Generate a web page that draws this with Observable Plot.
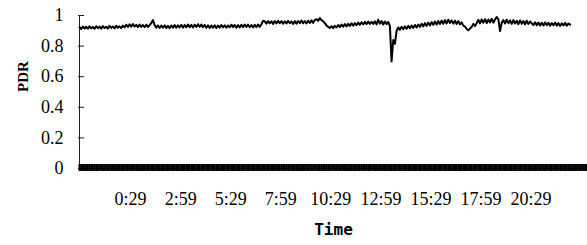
<!DOCTYPE html>
<html>
<head>
<meta charset="utf-8">
<script src="https://cdn.jsdelivr.net/npm/d3@7"></script>
<script src="https://cdn.jsdelivr.net/npm/@observablehq/plot@0.6"></script>
<style>
  html, body { margin: 0; padding: 0; background: #fff; }
</style>
</head>
<body>
<div id="chart"></div>
<script>
// Series: PDR sampled every 5 minutes, first sample at 21:56 of the previous day
const startHour = -2.0667;   // hours relative to 0:00
const stepHour = 1 / 12;     // 5 minutes
const pdrValues = [
  0.924, 0.912, 0.928, 0.915, 0.926, 0.914, 0.929, 0.916, 0.925, 0.913, 0.930, 0.917, 0.927, 0.914, 0.931,
  0.918, 0.926, 0.915, 0.932, 0.919, 0.928, 0.916, 0.933, 0.920, 0.929, 0.917, 0.934, 0.922,
  0.940, 0.925, 0.942, 0.927, 0.944, 0.928, 0.939, 0.924, 0.941, 0.926, 0.938, 0.923, 0.940, 0.925, 0.937,
  0.950, 0.970,
  0.938, 0.921, 0.935, 0.919, 0.934, 0.920, 0.936, 0.918, 0.933, 0.917, 0.935, 0.921, 0.937, 0.920, 0.936,
  0.922, 0.939, 0.921, 0.937, 0.923, 0.941, 0.924, 0.939, 0.922, 0.940, 0.925, 0.943, 0.926, 0.941, 0.924,
  0.938, 0.920, 0.936, 0.919, 0.935, 0.920, 0.936, 0.918, 0.934, 0.921, 0.938, 0.922, 0.936, 0.920, 0.935,
  0.923, 0.940, 0.924, 0.938, 0.921, 0.937, 0.922, 0.939, 0.924, 0.941, 0.925, 0.940, 0.923, 0.938, 0.922,
  0.939, 0.924, 0.941, 0.926, 0.943,
  0.965,
  0.962, 0.947, 0.964, 0.949, 0.962, 0.945, 0.964, 0.948, 0.966, 0.950, 0.963, 0.946, 0.962, 0.948, 0.965,
  0.949, 0.961, 0.945, 0.963, 0.947, 0.964, 0.950, 0.967, 0.949, 0.963, 0.948, 0.966, 0.951, 0.968, 0.952, 0.970,
  0.976, 0.965, 0.983, 0.970, 0.962,
  0.950, 0.935, 0.926, 0.918, 0.930, 0.917, 0.932,
  0.922, 0.938, 0.924, 0.941, 0.927, 0.944, 0.929, 0.946, 0.932, 0.949, 0.934, 0.951, 0.936, 0.954, 0.939,
  0.956, 0.941, 0.958, 0.943, 0.960, 0.945, 0.959,
  0.945, 0.962, 0.942, 0.972, 0.947, 0.964, 0.941, 0.961, 0.944, 0.958, 0.930,
  0.700, 0.840, 0.815, 0.900,
  0.922, 0.906, 0.926, 0.910, 0.929, 0.913, 0.932, 0.916, 0.935, 0.919, 0.938, 0.922, 0.941, 0.926,
  0.946, 0.929, 0.950, 0.932, 0.954, 0.935, 0.957, 0.939, 0.961, 0.941, 0.964, 0.944, 0.967, 0.946, 0.970,
  0.948, 0.972, 0.951, 0.968, 0.947, 0.966, 0.945, 0.964, 0.942,
  0.955, 0.934, 0.928, 0.912, 0.903, 0.915,
  0.925, 0.945, 0.932,
  0.950, 0.972, 0.948, 0.974, 0.953, 0.976, 0.951, 0.973, 0.955, 0.978, 0.953, 0.975,
  0.990, 0.975, 0.898, 0.952,
  0.970, 0.948, 0.972, 0.950, 0.968, 0.945, 0.970, 0.948, 0.966, 0.943, 0.968, 0.946, 0.964, 0.942, 0.966,
  0.945, 0.961,
  0.949, 0.938, 0.956, 0.936, 0.954, 0.934, 0.952, 0.935, 0.955, 0.937, 0.953, 0.933, 0.951, 0.936, 0.954,
  0.934, 0.950, 0.932, 0.949, 0.935, 0.952, 0.933, 0.948, 0.940
];
const xTickLabels = ["0:29", "2:59", "5:29", "7:59", "10:29", "12:59", "15:29", "17:59", "20:29"];
const yTicks = [0, 0.2, 0.4, 0.6, 0.8, 1];
const axisEndHour = 23.3;

const toHour = s => { const [h, m] = s.split(":").map(Number); return h + m / 60; };
const xTickHours = xTickLabels.map(toHour);
const labelByHour = new Map(xTickHours.map((h, i) => [h, xTickLabels[i]]));
const data = pdrValues.map((v, i) => ({hour: startHour + i * stepHour, pdr: v}));
const categoryTicks = d3.range(startHour, axisEndHour, stepHour);

const serif = "'Liberation Serif', 'Times New Roman', serif";

const chart = Plot.plot({
  width: 587,
  height: 245,
  marginLeft: 79,
  marginRight: 0,
  marginTop: 15,
  marginBottom: 77,
  style: {fontFamily: serif, fontSize: "18px", background: "#fff", color: "#000"},
  x: {domain: [startHour, axisEndHour], axis: null, label: null},
  y: {domain: [0, 1], axis: null, label: null},
  marks: [
    // y axis line
    Plot.ruleX([startHour], {y1: 0, y2: 1, stroke: "#222", strokeWidth: 1}),
    // inward y ticks
    Plot.ruleY(yTicks, {x1: startHour, x2: startHour, insetLeft: -1, insetRight: -5, stroke: "#222", strokeWidth: 1}),
    Plot.axisY({ticks: yTicks, tickSize: 0, tickPadding: 16, tickFormat: d => String(d), fontSize: 18, fontFamily: serif, label: null}),
    // dense category tick band along y = 0
    Plot.ruleX(categoryTicks, {x: d => d, y1: 0, y2: 0, insetTop: -4, insetBottom: -3, stroke: "#000", strokeWidth: 2}),
    Plot.ruleY([0], {stroke: "#000", strokeWidth: 1}),
    Plot.axisX({ticks: xTickHours, tickSize: 0, tickPadding: 24, tickFormat: d => labelByHour.get(d), fontSize: 18, fontFamily: serif, label: null}),
    // series
    Plot.line(data, {x: "hour", y: "pdr", stroke: "#000", strokeWidth: 2}),
    // axis titles
    Plot.text(["PDR"], {frameAnchor: "left", dx: -56, rotate: -90, fontWeight: "bold", fontSize: 15, fontFamily: serif}),
    Plot.text(["Time"], {frameAnchor: "bottom", dy: 66, fontWeight: "bold", fontSize: 16, fontFamily: "'DejaVu Sans Mono', monospace"})
  ]
});
document.getElementById("chart").appendChild(chart);
</script>
</body>
</html>
